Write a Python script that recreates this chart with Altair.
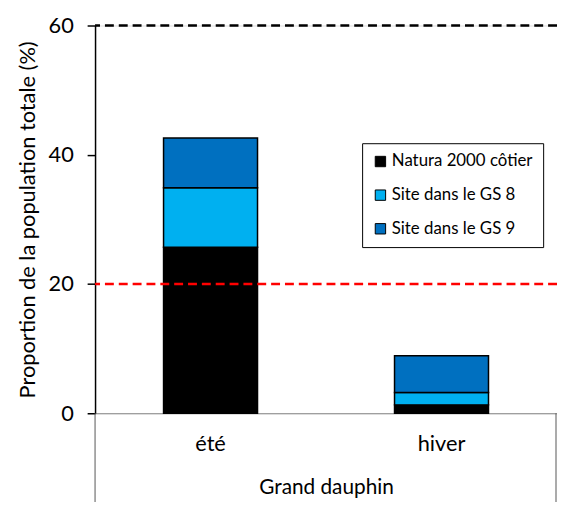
import altair as alt
import pandas as pd

saisons = ["été", "hiver"]
categories = ["Natura 2000 côtier", "Site dans le GS 8", "Site dans le GS 9"]
natura = [25.7, 1.3]
gs8 = [9.2, 1.9]
gs9 = [7.7, 5.7]
couleurs = ["#000000", "#00B0F0", "#0070C0"]
seuils = [60, 20]
seuil_couleurs = ["#000000", "#FF0000"]
y_ticks = [0, 20, 40, 60]

rows = []
for i, s in enumerate(saisons):
    for k, (cat, vals) in enumerate(zip(categories, [natura, gs8, gs9])):
        rows.append({"saison": s, "cat": cat, "val": vals[i], "ordre": k})
df = pd.DataFrame(rows)
df_seuils = pd.DataFrame({"y": seuils, "c": seuil_couleurs})

W, H = 467, 392
FONT = "Lato"

bars = alt.Chart(df).mark_bar(size=95, stroke="black", strokeWidth=1.5).encode(
    x=alt.X(
        "saison:N",
        sort=saisons,
        scale=alt.Scale(paddingInner=0, paddingOuter=0),
        axis=alt.Axis(
            title="Grand dauphin",
            labelAngle=0,
            ticks=False,
            domainColor="#888888",
            domainWidth=1,
            labelFontSize=22,
            labelPadding=21,
            titleFontSize=21,
            titleFontWeight="normal",
            titlePadding=22,
            labelColor="black",
            titleColor="black",
        ),
    ),
    y=alt.Y(
        "val:Q",
        stack="zero",
        scale=alt.Scale(domain=[0, 60], nice=False),
        axis=alt.Axis(
            title="Proportion de la population totale (%)",
            values=y_ticks,
            grid=False,
            tickSize=8,
            tickColor="black",
            tickWidth=1.5,
            domainColor="black",
            domainWidth=1.5,
            labelFontSize=22,
            labelPadding=14,
            titleFontSize=22,
            titleFontWeight="normal",
            titlePadding=9,
            labelColor="black",
            titleColor="black",
        ),
    ),
    color=alt.Color(
        "cat:N",
        sort=categories,
        scale=alt.Scale(domain=categories, range=couleurs),
        legend=alt.Legend(
            title=None,
            orient="none",
            legendX=270,
            legendY=119,
            strokeColor="black",
            fillColor="white",
            padding=10,
            symbolType="square",
            symbolSize=110,
            symbolStrokeColor="black",
            symbolStrokeWidth=1,
            labelFontSize=17,
            labelColor="black",
            rowPadding=16,
            labelOffset=3,
            labelLimit=300,
        ),
    ),
    order=alt.Order("ordre:Q"),
)

lines = alt.Chart(df_seuils).mark_rule(strokeDash=[9, 5], strokeWidth=2.5).encode(
    y="y:Q",
    color=alt.Color("c:N", scale=None),
)

sep_left = alt.Chart(df_seuils.head(1)).mark_rule(color="#555555", strokeWidth=1).encode(
    x=alt.value(0), y=alt.value(H), y2=alt.value(H + 90)
)
sep_right = alt.Chart(df_seuils.head(1)).mark_rule(color="#555555", strokeWidth=1).encode(
    x=alt.value(W - 1), y=alt.value(H), y2=alt.value(H + 90)
)

chart = alt.layer(bars, lines, sep_left, sep_right).properties(
    width=W,
    height=H,
    padding={"left": 88, "top": 15, "right": 0, "bottom": 87},
    autosize=alt.AutoSizeParams(type="none"),
).configure_view(strokeWidth=0).configure(font=FONT)

chart.save("out.html", embed_options={"renderer": "svg", "actions": False})
